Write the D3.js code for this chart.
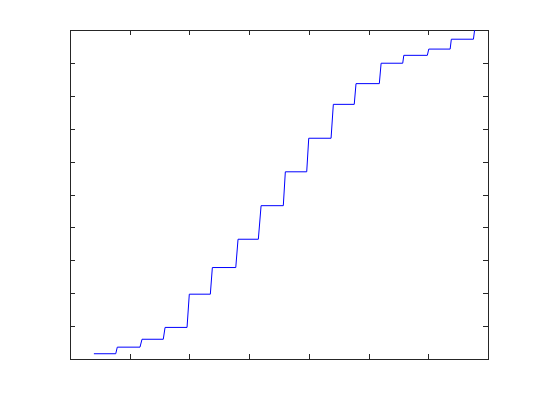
<!DOCTYPE html>
<html>
<head>
<meta charset="utf-8">
<script src="https://cdn.jsdelivr.net/npm/d3@7"></script>
<style>
  body { margin: 0; background: #fff; }
  svg { display: block; }
</style>
</head>
<body>
<svg id="chart"></svg>
<script>
// staircase vertices
const xs = [2.0, 3.83, 3.96, 5.86, 6.03, 7.81, 7.96, 9.80, 9.99, 11.75, 11.92, 13.88, 14.07, 15.77,
            16.0, 17.86, 18.03, 19.82, 19.99, 21.86, 22.05, 23.8, 23.95, 25.9, 26.05, 27.86, 27.95,
            29.92, 30.04, 31.83, 31.93, 33.78, 33.88];
const ys = [0.16, 0.16, 0.36, 0.36, 0.60, 0.60, 0.96, 0.96, 1.97, 1.97, 2.78, 2.78, 3.64, 3.64,
            4.66, 4.66, 5.69, 5.69, 6.71, 6.71, 7.74, 7.74, 8.37, 8.37, 8.99, 8.99, 9.23,
            9.23, 9.42, 9.42, 9.72, 9.72, 10.0];
const xTicks = [0, 5, 10, 15, 20, 25, 30, 35];
const yTicks = [0, 1, 2, 3, 4, 5, 6, 7, 8, 9, 10];

const width = 540;
const height = 406;
const marginTop = 30;
const marginRight = 52;
const marginBottom = 47;
const marginLeft = 70;
const tickLen = 5;
const axisColor = "#262626";

const x = d3.scaleLinear()
    .domain([0, 35])
    .range([marginLeft, width - marginRight]);

const y = d3.scaleLinear()
    .domain([0, 10])
    .range([height - marginBottom, marginTop]);

const svg = d3.select("#chart")
    .attr("width", width)
    .attr("height", height);

// ticks pointing inward on all four sides
function styleAxis(g) {
  g.select(".domain").remove();
  g.selectAll(".tick line").attr("stroke", axisColor).attr("shape-rendering", "crispEdges");
  g.selectAll(".tick text").remove();
}

svg.append("g")
    .attr("transform", `translate(0,${height - marginBottom})`)
    .call(d3.axisBottom(x).tickValues(xTicks).tickSizeInner(-tickLen).tickSizeOuter(0).tickFormat(""))
    .call(styleAxis);

svg.append("g")
    .attr("transform", `translate(0,${marginTop})`)
    .call(d3.axisTop(x).tickValues(xTicks).tickSizeInner(-tickLen).tickSizeOuter(0).tickFormat(""))
    .call(styleAxis);

svg.append("g")
    .attr("transform", `translate(${marginLeft},0)`)
    .call(d3.axisLeft(y).tickValues(yTicks).tickSizeInner(-tickLen).tickSizeOuter(0).tickFormat(""))
    .call(styleAxis);

svg.append("g")
    .attr("transform", `translate(${width - marginRight},0)`)
    .call(d3.axisRight(y).tickValues(yTicks).tickSizeInner(-tickLen).tickSizeOuter(0).tickFormat(""))
    .call(styleAxis);

// box
svg.append("rect")
    .attr("x", x(0) + 0.5)
    .attr("y", y(10) + 0.5)
    .attr("width", x(35) - x(0))
    .attr("height", y(0) - y(10))
    .attr("fill", "none")
    .attr("stroke", axisColor)
    .attr("stroke-width", 1);

const line = d3.line()
    .x((d, i) => x(xs[i]))
    .y((d, i) => y(ys[i]));

svg.append("path")
    .datum(xs)
    .attr("fill", "none")
    .attr("stroke", "#0000ff")
    .attr("stroke-width", 1)
    .attr("d", line);
</script>
</body>
</html>
